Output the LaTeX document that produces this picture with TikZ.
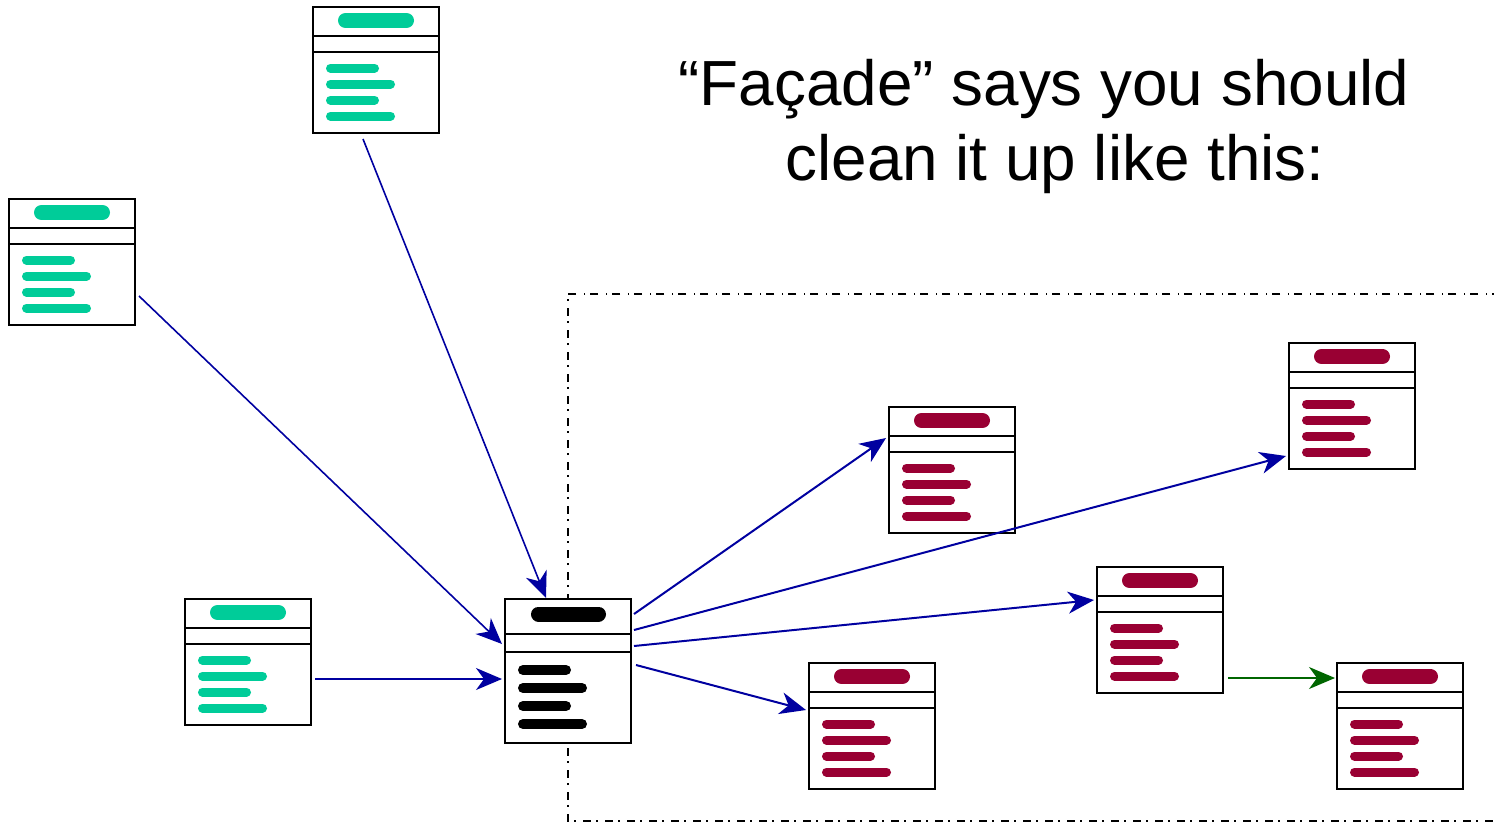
\documentclass[tikz,border=0pt]{standalone}
\usepackage{fontspec}
\setmainfont{Liberation Sans}
\usetikzlibrary{arrows.meta,calc}

\definecolor{clientgreen}{RGB}{0,204,153}
\definecolor{subred}{RGB}{153,0,51}
\definecolor{linkblue}{RGB}{0,0,160}
\definecolor{linkgreen}{RGB}{0,102,0}

\tikzset{
  classbox/.style={draw=black, line width=2pt, fill=white, rectangle,
    minimum width=126pt, minimum height=126pt, inner sep=0pt, anchor=north west},
  divider/.style={draw=black, line width=2pt},
  namebar/.style={line width=15pt, line cap=round},
  memberbar/.style={line width=9pt, line cap=round},
  uses/.style={draw=linkblue, line width=1.6pt,
    -{Stealth[length=26pt, width=22pt, inset=8pt]}},
  usesbold/.style={uses, line width=2pt},
  calls/.style={draw=linkgreen, line width=1.6pt,
    -{Stealth[length=26pt, width=22pt, inset=8pt]}},
  subsystem/.style={draw=black, line width=1.5pt,
    dash pattern=on 8pt off 5pt on 1.5pt off 7.5pt},
  headline/.style={font=\fontsize{63.8}{70}\selectfont, inner sep=0pt, anchor=base},
}

% A small class symbol: name compartment, empty attribute compartment,
% and four operations drawn as rounded bars.
\newcommand\umlclass[3]{%
  \node[classbox] (#1) at (#2) {};
  \draw[divider] ($(#1.north west)+(0,30)$) -- ($(#1.north east)+(0,30)$);
  \draw[divider] ($(#1.north west)+(0,46)$) -- ($(#1.north east)+(0,46)$);
  \draw[namebar, #3] ($(#1.north west)+(33.5,14.5)$) -- ($(#1.north west)+(94.5,14.5)$);
  \foreach \yy/\xe in {62/62.5, 78/78.5, 94/62.5, 110/78.5}
    \draw[memberbar, #3] ($(#1.north west)+(18.5,\yy)$) -- ($(#1.north west)+(\xe,\yy)$);
}

\begin{document}
\begin{tikzpicture}[x=1pt, y=-1pt]
  \useasboundingbox (0,0) rectangle (1494,823);

  % subsystem boundary
  \draw[subsystem] (1500,294) -- (568,294) -- (568,821) -- (1500,821);

  % headline
  \node[headline] (title1) at (1044,105) {“Façade” says you should};
  \node[headline] (title2) at (1055,180) {clean it up like this:};

  % clients
  \umlclass{cA}{312,6}{clientgreen}
  \umlclass{cB}{8,198}{clientgreen}
  \umlclass{cC}{184,598}{clientgreen}

  % subsystem classes
  \umlclass{sD}{888,406}{subred}
  \umlclass{sE}{1288,342}{subred}
  \umlclass{sF}{1096,566}{subred}
  \umlclass{sG}{808,662}{subred}
  \umlclass{sH}{1336,662}{subred}

  % the facade
  \node[classbox, minimum height=144pt] (fac) at (504,598) {};
  \draw[divider] ($(fac.north west)+(0,36)$) -- ($(fac.north east)+(0,36)$);
  \draw[divider] ($(fac.north west)+(0,54)$) -- ($(fac.north east)+(0,54)$);
  \draw[namebar, black] ($(fac.north west)+(34.5,16)$) -- ($(fac.north west)+(94.5,16)$);
  \foreach \yy/\xe in {72/62, 90/78, 108/62, 126/78}
    \draw[line width=10pt, line cap=round, black]
      ($(fac.north west)+(19,\yy)$) -- ($(fac.north west)+(\xe,\yy)$);

  % clients talk to the facade only
  \draw[uses] ($(cA.south)+(-13,5)$) -- ($(fac.north)+(-22,0)$);
  \draw[uses] ($(cB.north east)+(3,98)$) -- ($(fac.north west)+(-2,46)$);
  \draw[uses] ($(cC.north east)+(3,81)$) -- ($(fac.north west)+(-2,81)$);

  % the facade delegates into the subsystem
  \draw[usesbold] ($(fac.north east)+(2,16)$) -- ($(sD.north west)+(-2,32)$);
  \draw[usesbold] ($(fac.north east)+(2,32)$) -- ($(sE.north west)+(-2,114)$);
  \draw[usesbold] ($(fac.north east)+(2,48)$) -- ($(sF.north west)+(-2,34)$);
  \draw[usesbold] ($(fac.north east)+(4,67)$) -- ($(sG.north west)+(-2,48)$);

  % internal call between subsystem classes
  \draw[calls] ($(sF.north east)+(4,112)$) -- ($(sH.north west)+(-1,16)$);
\end{tikzpicture}
\end{document}
